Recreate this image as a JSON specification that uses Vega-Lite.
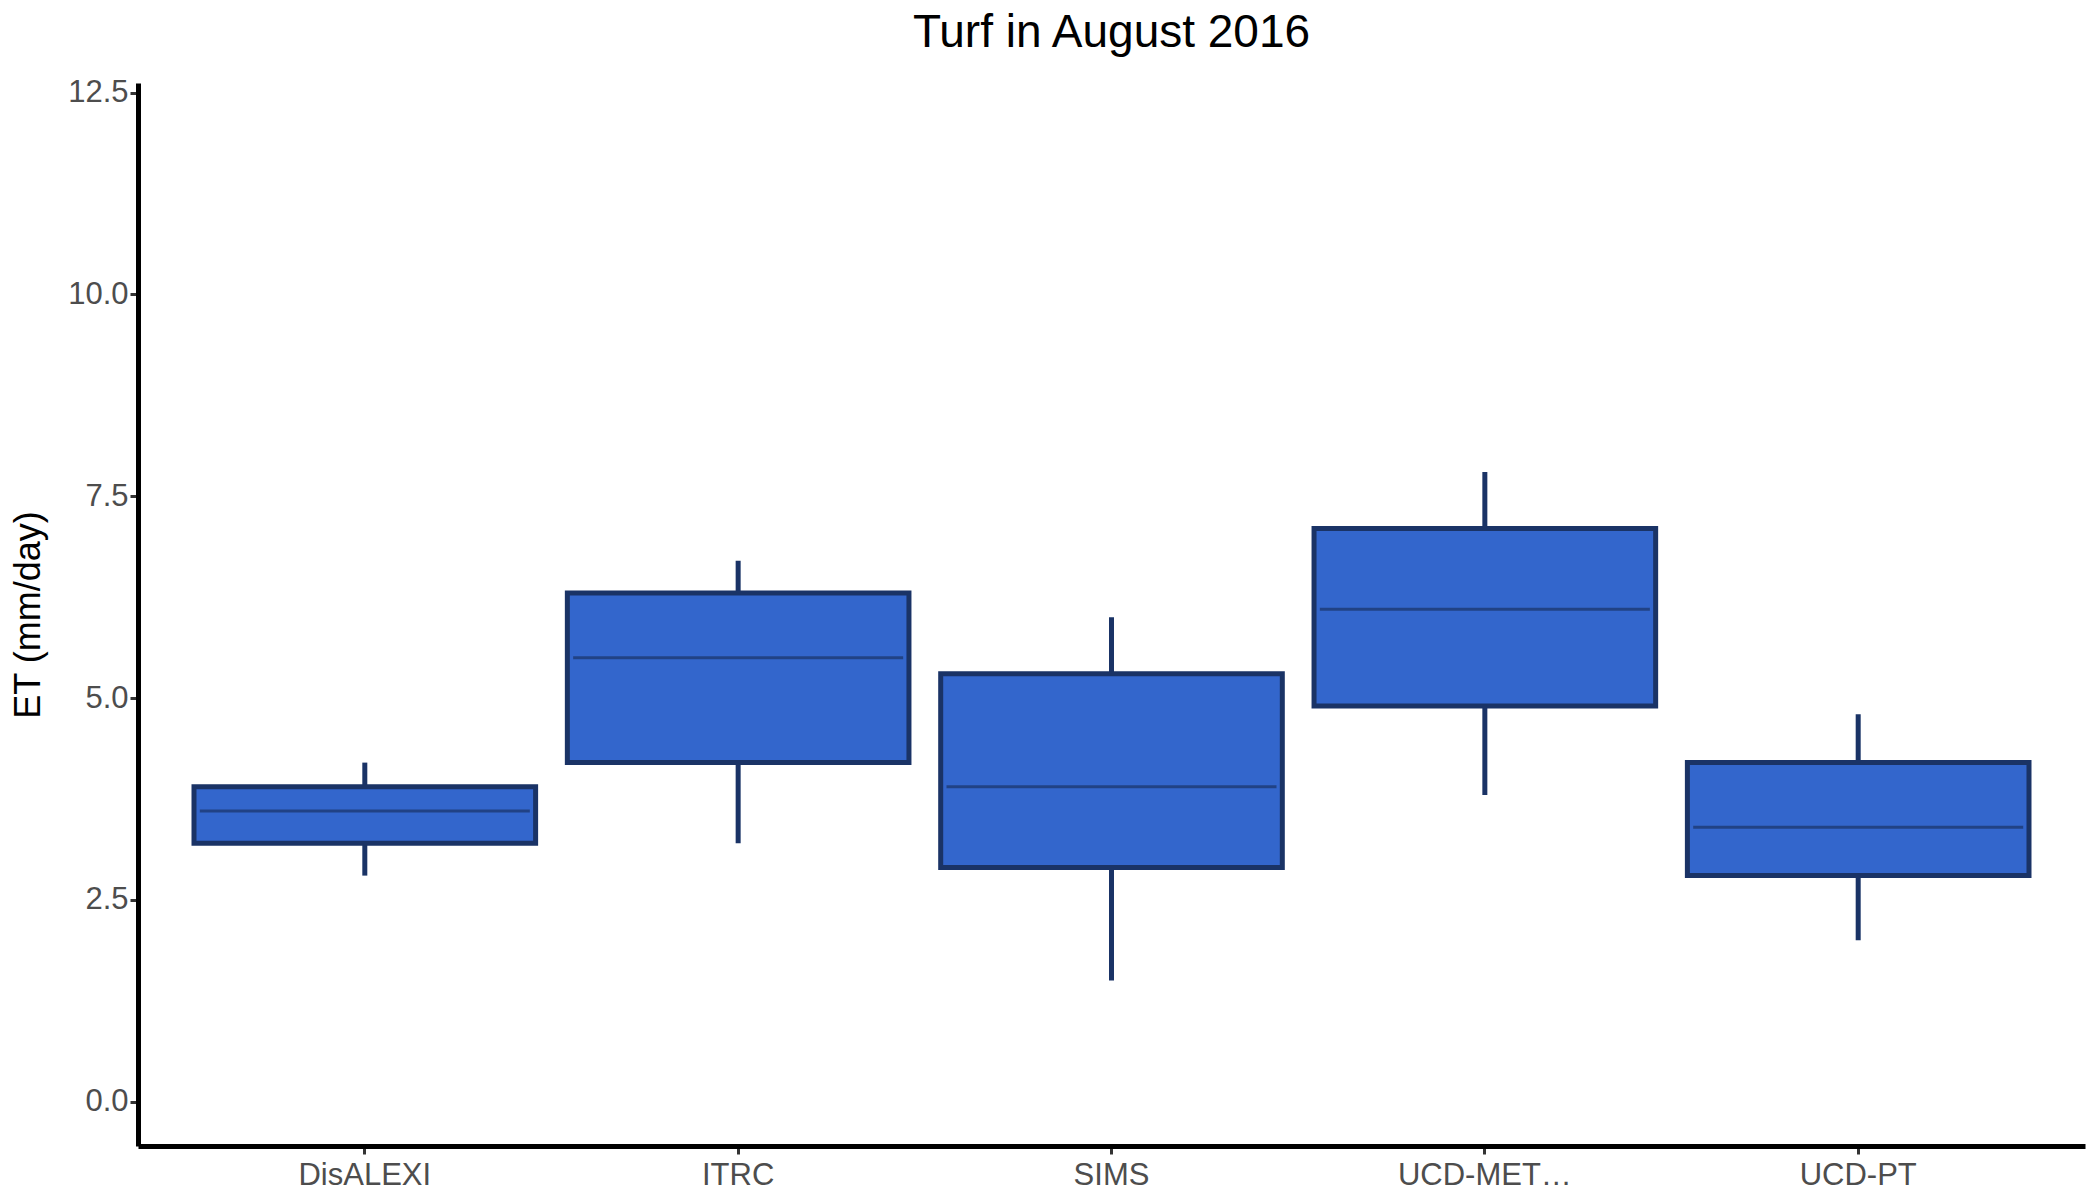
{
  "$schema": "https://vega.github.io/schema/vega-lite/v6.json",
  "width": 2100,
  "height": 1200,
  "autosize": {"type": "fit", "contains": "padding"},
  "background": "white",
  "padding": {"left": 10, "right": 15, "top": 10, "bottom": 10},
  "title": {"text": "Turf in August 2016", "fontSize": 46, "font": "Liberation Sans", "fontWeight": "normal", "color": "black", "anchor": "middle", "offset": 20},
  "config": {"view": {"stroke": null}, "font": "Liberation Sans"},
  "data": {
    "values": [
      {"model": "DisALEXI", "lower": 2.8, "q1": 3.2, "median": 3.6, "q3": 3.9, "upper": 4.2},
      {"model": "ITRC", "lower": 3.2, "q1": 4.2, "median": 5.5, "q3": 6.3, "upper": 6.7},
      {"model": "SIMS", "lower": 1.5, "q1": 2.9, "median": 3.9, "q3": 5.3, "upper": 6.0},
      {"model": "UCD-METRIC", "lower": 3.8, "q1": 4.9, "median": 6.1, "q3": 7.1, "upper": 7.8},
      {"model": "UCD-PT", "lower": 2.0, "q1": 2.8, "median": 3.4, "q3": 4.2, "upper": 4.8}
    ]
  },
  "encoding": {
    "x": {
      "field": "model", "type": "nominal", "title": null,
      "scale": {"paddingInner": 0.085, "paddingOuter": 0.15},
      "axis": {"labelAngle": 0, "labelFontSize": 31, "labelColor": "#4d4d4d", "domainColor": "black", "domainWidth": 5, "tickColor": "#333333", "tickWidth": 3, "tickSize": 8, "labelPadding": 6}
    }
  },
  "layer": [
    {
      "mark": {"type": "rule", "color": "#1a3366", "strokeWidth": 5},
      "encoding": {
        "y": {"field": "lower", "type": "quantitative", "title": "ET (mm/day)",
          "scale": {"domain": [-0.55, 12.62], "nice": false, "zero": false},
          "axis": {"values": [0, 2.5, 5, 7.5, 10, 12.5], "grid": false, "labelFontSize": 31, "labelColor": "#4d4d4d", "titleFontSize": 36, "titleFontWeight": "normal", "titleColor": "black", "domainColor": "black", "domainWidth": 5, "tickColor": "#333333", "tickWidth": 3, "tickSize": 8, "titlePadding": 20}},
        "y2": {"field": "upper"}
      }
    },
    {
      "mark": {"type": "bar", "fill": "#3366cc", "stroke": "#1a3366", "strokeWidth": 5, "width": {"band": 1}},
      "encoding": {
        "y": {"field": "q1", "type": "quantitative"},
        "y2": {"field": "q3"}
      }
    },
    {
      "mark": {"type": "tick", "color": "#1a3366", "thickness": 3, "size": 330},
      "encoding": {
        "y": {"field": "median", "type": "quantitative"}
      }
    }
  ]
}
